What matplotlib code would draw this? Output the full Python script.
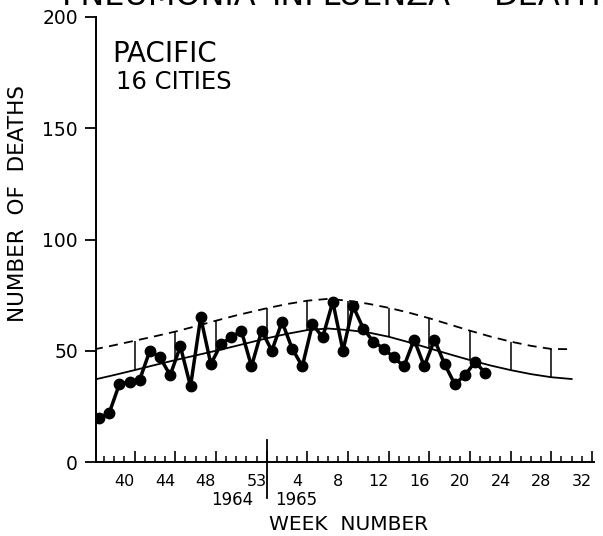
import numpy as np
import matplotlib
matplotlib.use("Agg")
import matplotlib.pyplot as plt
from matplotlib.ticker import FixedLocator
from matplotlib.transforms import ScaledTranslation, blended_transform_factory

# weekly pneumonia-influenza deaths, Pacific region
weeks_1964 = list(range(37, 54))
weeks_1965 = list(range(1, 23))
deaths_1964 = [20, 22, 35, 36, 37, 50, 47, 39, 52, 34, 65, 44, 53, 56, 59, 43, 59]
deaths_1965 = [50, 63, 51, 43, 62, 56, 72, 50, 70, 60, 54, 51, 47, 43, 55, 43,
               55, 44, 35, 39, 45, 40]

# seasonal expected level and epidemic threshold
base_weeks_1964 = [36, 38, 40, 42, 44, 46, 48, 50, 53]
base_weeks_1965 = [2, 4, 6, 8, 10, 12, 14, 16, 18, 20, 22, 24, 26, 28, 30]
expected_1964 = [37.0, 39.1, 41.3, 43.6, 45.8, 47.9, 50.0, 52.2, 55.6]
expected_1965 = [57.6, 59.3, 60.0, 59.3, 58.2, 56.3, 53.8, 51.1, 48.4, 45.8,
                 43.4, 41.3, 39.5, 38.1, 37.3]
threshold_1964 = [50.6, 52.5, 54.5, 56.5, 58.6, 61.0, 63.5, 65.9, 69.1]
threshold_1965 = [71.0, 72.5, 73.3, 72.5, 71.1, 69.3, 67.1, 64.6, 61.8, 59.0,
                  56.4, 54.1, 52.2, 50.8, 50.7]

bar_weeks_1964 = [40, 44, 48, 53]
bar_weeks_1965 = [4, 8, 12, 16, 20, 24, 28]

label_weeks_1964 = [40, 44, 48, 53]
label_weeks_1965 = [4, 8, 12, 16, 20, 24, 28, 32]


def seq(weeks, year):
    # run the weeks on from 1964 (53 weeks) into 1965
    return np.array(weeks) + (53 if year == 1965 else 0)


plt.rcParams["font.family"] = "DejaVu Sans"

fig = plt.figure(figsize=(6.03, 5.36), dpi=100)
ax = fig.add_axes([96 / 603, 1 - 462 / 536, 498 / 603, 445 / 536])

x_deaths = np.concatenate([seq(weeks_1964, 1964), seq(weeks_1965, 1965)]) - 0.5
y_deaths = deaths_1964 + deaths_1965
x_base = np.concatenate([seq(base_weeks_1964, 1964), seq(base_weeks_1965, 1965)])
y_expected = np.array(expected_1964 + expected_1965)
y_threshold = np.array(threshold_1964 + threshold_1965)
x_bars = np.concatenate([seq(bar_weeks_1964, 1964), seq(bar_weeks_1965, 1965)])

ax.plot(x_base, y_expected, color="black", lw=1.3)
ax.plot(x_base, y_threshold, color="black", lw=1.3, linestyle=(0, (5, 3.5)))
sel = np.isin(x_base, x_bars)
ax.vlines(x_base[sel], y_expected[sel], y_threshold[sel], color="black", lw=1.1)

ax.plot(x_deaths, y_deaths, color="black", lw=2.5, marker="o", markersize=7.5)

ax.set_xlim(36.2, 85.2)
ax.set_ylim(0, 200)

for side in ["top", "right"]:
    ax.spines[side].set_visible(False)
for side in ["left", "bottom"]:
    ax.spines[side].set_linewidth(1.4)

ax.set_yticks([0, 50, 100, 150, 200])
ax.tick_params(axis="y", direction="out", length=8, width=1.3, pad=5, labelsize=13.5)

major = np.concatenate([seq(label_weeks_1964, 1964), seq(label_weeks_1965, 1965)])
ax.set_xticks(major, [str(w) for w in label_weeks_1964 + label_weeks_1965])
ax.xaxis.set_minor_locator(FixedLocator([w for w in range(37, 86) if w not in major]))
ax.tick_params(axis="x", which="major", direction="in", length=8, width=1.2,
               pad=9, labelsize=11.5)
ax.tick_params(axis="x", which="minor", direction="in", length=4, width=1.1)

shift = ScaledTranslation(-0.10, 0, fig.dpi_scale_trans)
for tick in ax.xaxis.get_major_ticks():
    tick.label1.set_transform(tick.label1.get_transform() + shift)

# year divider below the axis
trans = blended_transform_factory(ax.transData, ax.transAxes)
ax.plot([53, 53], [-0.08, 0.05], color="black", lw=1.3, transform=trans, clip_on=False)

fig.text(232 / 603, 1 - 500 / 536, "1964", ha="center", va="center", fontsize=12)
fig.text(296 / 603, 1 - 500 / 536, "1965", ha="center", va="center", fontsize=12)
fig.text(349 / 603, 1 - 524 / 536, "WEEK  NUMBER", ha="center", va="center", fontsize=14.5)
fig.text(18 / 603, 1 - 204 / 536, "NUMBER  OF  DEATHS", rotation=90,
         ha="center", va="center", fontsize=15.5)

fig.text(112 / 603, 1 - 62 / 536, "PACIFIC", va="baseline", fontsize=20)
fig.text(116 / 603, 1 - 89 / 536, "16 CITIES", va="baseline", fontsize=17.5)

# heading runs off the top edge of the page
fig.text(62 / 603, 1 - 5 / 536, "PNEUMONIA", va="baseline", fontsize=23)
fig.text(272 / 603, 1 - 5 / 536, "INFLUENZA", va="baseline", fontsize=23)
fig.text(494 / 603, 1 - 5 / 536, "DEATHS", va="baseline", fontsize=23)

fig.savefig("out.png", dpi=100)
